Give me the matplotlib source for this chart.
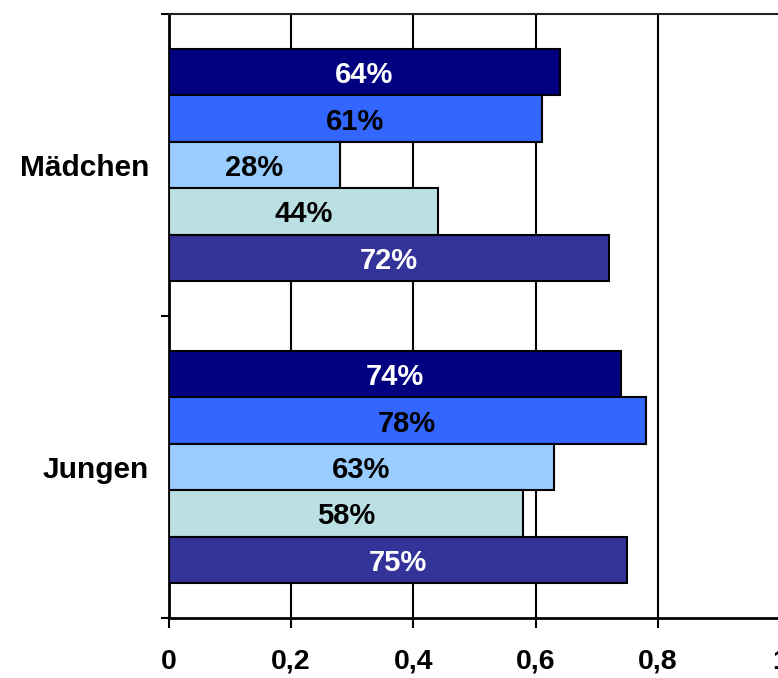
import numpy as np
import matplotlib.pyplot as plt

plt.rcParams['font.family'] = ['Liberation Sans', 'DejaVu Sans']
plt.rcParams['font.weight'] = 'bold'

groups = ['Jungen', 'Mädchen']
# Anteile je Gruppe, Reihenfolge von oben nach unten innerhalb der Gruppe
maedchen = [0.64, 0.61, 0.28, 0.44, 0.72]
jungen = [0.74, 0.78, 0.63, 0.58, 0.75]
colors = ['#000080', '#3366FF', '#99CCFF', '#BBE0E3', '#333399']
text_colors = ['white', 'black', 'black', 'black', 'white']
xticks = [0, 0.2, 0.4, 0.6, 0.8, 1.0]
xtick_labels = ['0', '0,2', '0,4', '0,6', '0,8', '1']

fig = plt.figure(figsize=(7.78, 6.78), dpi=100)
ax = fig.add_axes([168.8 / 778, 60 / 678, (780 - 168.8) / 778, 604 / 678])

n = len(colors)
bar_h = 0.768 / n
values = {0: jungen, 1: maedchen}
for g in (0, 1):
    for i in range(n):
        # erster Balken oben
        y = g + 0.384 - bar_h * (i + 0.5)
        v = values[g][i]
        ax.barh(y, v, height=bar_h, color=colors[i], edgecolor='black',
                linewidth=1.5, zorder=3)
        ax.text(v / 2, y, f'{round(v * 100)}%', ha='center',
                va='center_baseline', fontsize=21, fontweight='bold',
                color=text_colors[i], zorder=4)

ax.set_xlim(0, 1)
ax.set_ylim(-0.5, 1.5)
ax.set_xticks(xticks)
ax.set_xticklabels(xtick_labels, fontsize=20.5, fontweight='bold')
ax.set_yticks([0, 1])
ax.set_yticklabels(groups, fontsize=21.5, fontweight='bold')
ax.set_yticks([-0.5, 0.5, 1.5], minor=True)

ax.tick_params(axis='y', which='major', length=0, pad=14)
ax.tick_params(axis='y', which='minor', length=6, width=1.5, direction='out')
ax.tick_params(axis='x', length=7, width=1.5, direction='out', pad=15)

ax.grid(axis='x', color='black', linewidth=1.5, zorder=0)
ax.set_axisbelow(True)
for side in ['left', 'bottom']:
    ax.spines[side].set_linewidth(2)
ax.spines['top'].set_linewidth(1.5)
ax.spines['top'].set_color('#222222')

fig.savefig('out.png', dpi=100)
